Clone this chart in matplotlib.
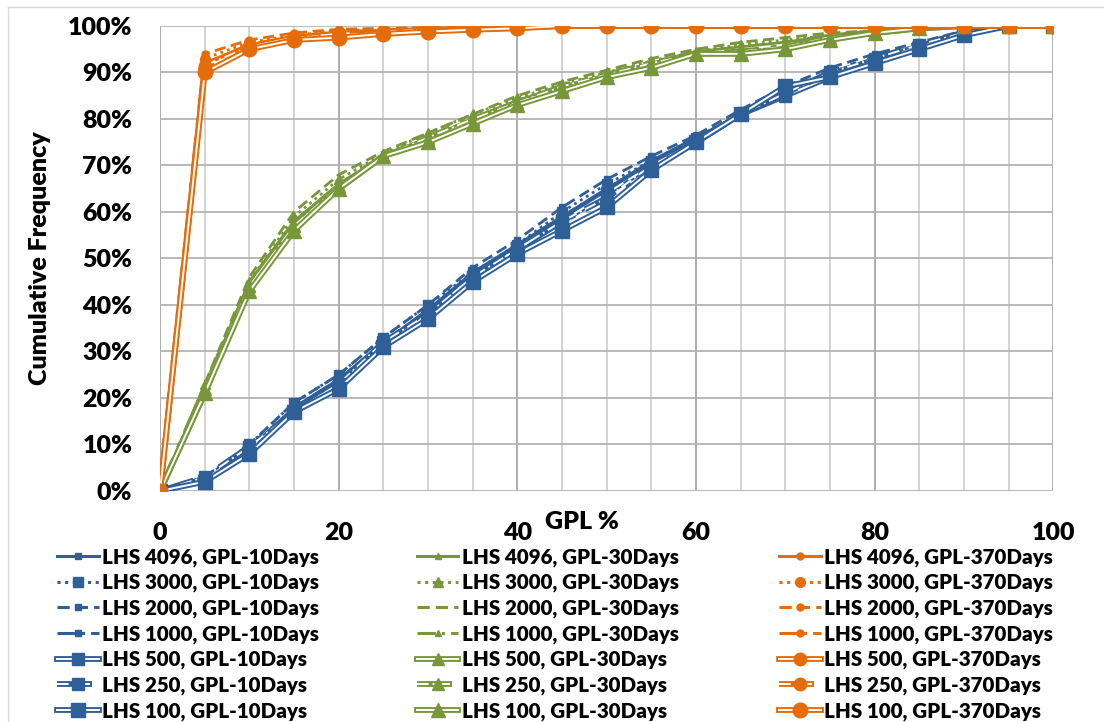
import matplotlib.pyplot as plt
from matplotlib.lines import Line2D
from matplotlib.legend_handler import HandlerTuple
from matplotlib.ticker import MultipleLocator, FuncFormatter

plt.rcParams['font.family'] = ['Lato', 'DejaVu Sans']
plt.rcParams['font.weight'] = 'heavy'
plt.rcParams['axes.labelweight'] = 'heavy'

gpl = [0, 5, 10, 15, 20, 25, 30, 35, 40, 45, 50, 55, 60, 65, 70, 75, 80, 85, 90, 95, 100]

# cumulative frequency (%) of GPL after 10 days, one list per LHS sample size
d10_4096 = [0, 3, 9, 18, 24, 32, 39, 47, 53, 59, 65, 71, 76, 81, 86, 90, 93, 96, 99, 100, 100]
d10_3000 = [0, 3, 10, 19, 25, 33, 40, 47, 53, 60, 66, 71, 76, 81, 86, 90, 93, 96, 98.5, 100, 100]
d10_2000 = [0, 2.5, 10, 19, 25, 33, 40, 48, 54, 61, 67, 72, 76.5, 82, 87, 91, 94, 96.5, 99, 100, 100]
d10_1000 = [0, 3, 9, 18, 24, 32, 39, 46, 53, 59, 65, 70, 76, 81, 86, 90, 93, 96, 98.5, 100, 100]
d10_500 = [0, 2.5, 9, 17, 23, 31, 38, 46, 52, 58, 64, 70, 75, 81, 85, 89, 92.5, 95.5, 98.5, 100, 100]
d10_250 = [0, 3, 9.5, 17, 23, 32, 38, 46, 52, 58, 63, 70, 75, 81, 85.5, 90, 93, 96, 98.5, 100, 100]
d10_100 = [0, 2, 8, 17, 22, 31, 37, 45, 51, 56, 61, 69, 75, 81, 87, 89, 92, 95, 98, 100, 100]

# GPL after 30 days
d30_4096 = [0, 22, 45, 58, 66, 72, 76, 80, 84, 87, 89.5, 92, 94.5, 95.5, 96.5, 98, 99, 99.5, 100, 100, 100]
d30_3000 = [0, 23, 45, 59, 67, 72.5, 77, 81, 84.5, 87.5, 90, 92.5, 94.5, 96, 97, 98, 99, 99.5, 100, 100, 100]
d30_2000 = [0, 23, 46, 60, 68, 73, 77, 81, 85, 88, 90.5, 93, 95, 96.5, 97.5, 98.5, 99, 99.5, 100, 100, 100]
d30_1000 = [0, 22, 45, 58, 66, 72, 76, 80, 84, 87, 89.5, 92, 94.5, 95.5, 96.5, 98, 99, 99.5, 100, 100, 100]
d30_500 = [0, 21, 44, 57, 65, 72, 75.5, 79.5, 83.5, 86.5, 89, 91.5, 94, 95, 96, 97.5, 98.5, 99.5, 100, 100, 100]
d30_250 = [0, 22, 44, 57, 65.5, 72, 76, 80, 83.5, 87, 89.5, 92, 94, 94.5, 95.5, 97.5, 98.5, 99.5, 100, 100, 100]
d30_100 = [0, 21, 43, 56, 65, 72, 75, 79, 83, 86, 89, 91, 94, 94, 95, 97, 98.5, 99.5, 100, 100, 100]

# GPL after 370 days
d370_4096 = [0, 92, 96, 97.8, 98.7, 99.1, 99.4, 99.5, 99.8, 100, 100, 100, 100, 100, 100, 100, 100, 100, 100, 100, 100]
d370_3000 = [0, 93, 96.5, 98, 99, 99.3, 99.5, 99.6, 99.8, 100, 100, 100, 100, 100, 100, 100, 100, 100, 100, 100, 100]
d370_2000 = [0, 94, 97, 98.5, 99.3, 99.5, 99.7, 99.8, 99.9, 100, 100, 100, 100, 100, 100, 100, 100, 100, 100, 100, 100]
d370_1000 = [0, 92, 96, 97.8, 98.7, 99.1, 99.4, 99.5, 99.8, 100, 100, 100, 100, 100, 100, 100, 100, 100, 100, 100, 100]
d370_500 = [0, 91, 95.5, 97.5, 98.3, 98.8, 99.2, 99.4, 99.7, 100, 100, 100, 100, 100, 100, 100, 100, 100, 100, 100, 100]
d370_250 = [0, 91.5, 95.5, 97.5, 98, 98.6, 99, 99.3, 99.6, 100, 100, 100, 100, 100, 100, 100, 100, 100, 100, 100, 100]
d370_100 = [0, 90, 95, 97, 97.5, 98.3, 98.8, 99.2, 99.5, 100, 100, 100, 100, 100, 100, 100, 100, 100, 100, 100, 100]

sizes = [4096, 3000, 2000, 1000, 500, 250, 100]
groups = [
    ('10Days', '#2f5f97', 's', [d10_4096, d10_3000, d10_2000, d10_1000, d10_500, d10_250, d10_100]),
    ('30Days', '#77973a', '^', [d30_4096, d30_3000, d30_2000, d30_1000, d30_500, d30_250, d30_100]),
    ('370Days', '#e46c0a', 'o', [d370_4096, d370_3000, d370_2000, d370_1000, d370_500, d370_250, d370_100]),
]

# per sample size: dash pattern, double line?, marker size
styles = {
    4096: ('-', False, 5),
    3000: ((0, (1, 1.5)), False, 7),
    2000: ((0, (4, 2)), False, 5),
    1000: ((0, (6, 2, 1, 2)), False, 5),
    500: ('-', True, 9),
    250: ((0, (6, 2, 1, 2)), True, 9),
    100: ('-', True, 10.5),
}

fig = plt.figure(figsize=(11.04, 7.22), dpi=100)
ax = fig.add_axes([0.145, 0.32, 0.809, 0.644])

legend_cols = []
for name, color, marker, series in groups:
    handles, labels = [], []
    for n, vals in zip(sizes, series):
        ls, double, ms = styles[n]
        mk = None if (name == '30Days' and n == 2000) else marker
        if double:
            ax.plot(gpl, vals, color=color, lw=4.2, ls=ls, solid_capstyle='butt')
            ax.plot(gpl, vals, color='white', lw=1.4, ls=ls, solid_capstyle='butt')
            ax.plot(gpl, vals, ls='none', marker=mk, ms=ms, color=color)
            h = (Line2D([], [], color=color, lw=4.2, ls=ls),
                 Line2D([], [], color='white', lw=1.4, ls=ls),
                 Line2D([], [], ls='none', marker=mk, ms=ms, color=color))
        else:
            ax.plot(gpl, vals, color=color, lw=2, ls=ls, marker=mk, ms=ms)
            h = (Line2D([], [], color=color, lw=2.2, ls=ls, marker=mk, ms=ms),)
        handles.append(h)
        labels.append(f'LHS {n}, GPL-{name}')
    legend_cols.append((handles, labels))

ax.set_xlim(0, 100)
ax.set_ylim(0, 100)
ax.xaxis.set_major_locator(MultipleLocator(20))
ax.xaxis.set_minor_locator(MultipleLocator(5))
ax.yaxis.set_major_locator(MultipleLocator(10))
ax.yaxis.set_major_formatter(FuncFormatter(lambda v, p: f'{v:.0f}%'))
ax.grid(True, which='major', axis='x', color='#a6a6a6', lw=1.3)
ax.grid(True, which='minor', axis='x', color='#d0d0d0', lw=1.3)
ax.grid(True, which='major', axis='y', color='#b3b3b3', lw=1.3)
ax.set_axisbelow(True)
for s in ax.spines.values():
    s.set_visible(False)
ax.tick_params(which='both', length=0, labelsize=18)
ax.tick_params(axis='x', pad=22)
ax.tick_params(axis='y', pad=20)
ax.set_ylabel('Cumulative Frequency', fontsize=18, fontweight='heavy', labelpad=12)
fig.text(0.527, 0.277, 'GPL %', fontsize=18, ha='center', va='center')

# light border of the chart area
fig.add_artist(Line2D([0.007, 1.0], [0.99, 0.99], color='#d9d9d9', lw=1))
fig.add_artist(Line2D([0.007, 0.007], [0.0, 0.99], color='#d9d9d9', lw=1))

anchors = [0.052, 0.378, 0.706]
for (handles, labels), x0 in zip(legend_cols, anchors):
    fig.legend(handles, labels, loc='upper left', bbox_to_anchor=(x0, 0.242),
               handler_map={tuple: HandlerTuple(ndivide=1)},
               frameon=False, prop={'weight': 'heavy', 'size': 14.8},
               handlelength=2.0, handletextpad=0.15, labelspacing=0.30,
               borderpad=0, borderaxespad=0)

fig.savefig('out.png', dpi=100)
